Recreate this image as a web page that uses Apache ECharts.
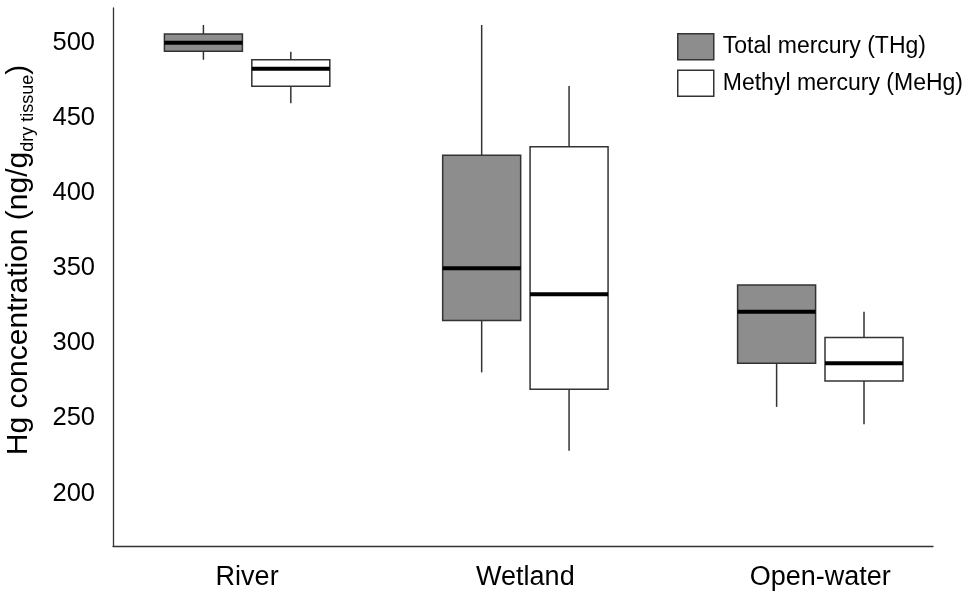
<!DOCTYPE html>
<html>
<head>
<meta charset="utf-8">
<script src="https://cdn.jsdelivr.net/npm/echarts@6/dist/echarts.min.js"></script>
<style>
  html, body { margin: 0; background: #fff; }
  #main { width: 969px; height: 594px; }
</style>
</head>
<body>
<div id="main"></div>
<script>
// sites along x
const categories = ['River', 'Wetland', 'Open-water'];
const groupPos = [1, 2, 3.06];
// box stats per site: [min, Q1, median, Q3, max]
const thgStats = [
  [489, 494.7, 500.4, 506.2, 512.2],
  [280.7, 315.3, 350, 425.3, 512.2],
  [257.7, 286.7, 321.1, 338.9, 338.9]
];
const mehgStats = [
  [460, 471.3, 483, 489, 494.4],
  [228.4, 269.5, 332.7, 431.1, 471.5],
  [246.2, 275, 286.7, 304, 321.1]
];
const yTicks = [200, 250, 300, 350, 400, 450, 500];

const BOX_W = 78;
const BOX_OFF = 43.7;
const FONT = '"Liberation Sans", Arial, sans-serif';

const chart = echarts.init(document.getElementById('main'));

// box + whiskers (no caps) + thick median line
function boxRenderer(side, fill) {
  return function (params, api) {
    const x = api.value(0);
    const lo = api.coord([x, api.value(1)]);
    const q1 = api.coord([x, api.value(2)]);
    const md = api.coord([x, api.value(3)]);
    const q3 = api.coord([x, api.value(4)]);
    const hi = api.coord([x, api.value(5)]);
    const cx = lo[0] + side * BOX_OFF;
    const half = BOX_W / 2;
    const lineSt = { stroke: '#333', lineWidth: 1.5 };
    return {
      type: 'group',
      children: [
        { type: 'line', shape: { x1: cx, y1: hi[1], x2: cx, y2: q3[1] }, style: lineSt },
        { type: 'line', shape: { x1: cx, y1: q1[1], x2: cx, y2: lo[1] }, style: lineSt },
        { type: 'rect', shape: { x: cx - half, y: q3[1], width: BOX_W, height: q1[1] - q3[1] },
          style: { fill: fill, stroke: '#333', lineWidth: 1.5 } },
        { type: 'line', shape: { x1: cx - half, y1: md[1], x2: cx + half, y2: md[1] },
          style: { stroke: '#000', lineWidth: 4 } }
      ]
    };
  };
}

const thgData = thgStats.map((s, i) => [groupPos[i]].concat(s));
const mehgData = mehgStats.map((s, i) => [groupPos[i]].concat(s));

const option = {
  backgroundColor: '#fff',
  animation: false,
  grid: { left: 113, right: 36, top: 8, bottom: 48, outerBoundsMode: 'none' },
  legend: {
    orient: 'vertical',
    left: 672,
    top: 28,
    itemWidth: 36,
    itemHeight: 26,
    itemGap: 9,
    icon: 'rect',
    textStyle: { fontFamily: FONT, fontSize: 23, color: '#000', padding: [0, 0, 0, 4] },
    data: [
      { name: 'Total mercury (THg)', itemStyle: { color: '#8d8d8d', borderColor: '#333', borderWidth: 1.5 } },
      { name: 'Methyl mercury (MeHg)', itemStyle: { color: '#fff', borderColor: '#333', borderWidth: 1.5 } }
    ]
  },
  xAxis: {
    type: 'value',
    min: 0.518,
    max: 3.465,
    splitLine: { show: false },
    axisTick: { show: false },
    axisLine: { show: true, onZero: false, lineStyle: { color: '#333', width: 1.3 } },
    axisLabel: {
      customValues: groupPos,
      formatter: function (v) {
        const i = groupPos.findIndex(p => Math.abs(p - v) < 1e-6);
        return i >= 0 ? categories[i] : '';
      },
      fontFamily: FONT, fontSize: 27, color: '#000', margin: 18
    }
  },
  yAxis: {
    type: 'value',
    min: 165,
    max: 523.5,
    splitLine: { show: false },
    axisTick: { show: false },
    axisLine: { show: true, lineStyle: { color: '#333', width: 1.3 } },
    axisLabel: { customValues: yTicks, fontFamily: FONT, fontSize: 25.5, color: '#000', margin: 18 },
    name: '{a|Hg concentration (ng/g}{sub|dry tissue}{a|)}',
    nameLocation: 'middle',
    nameGap: 76,
    nameTextStyle: {
      padding: [0, 0, 0, 34],
      rich: {
        a: { fontFamily: FONT, fontSize: 30, color: '#000', lineHeight: 36 },
        sub: { fontFamily: FONT, fontSize: 18, color: '#000', lineHeight: 26, verticalAlign: 'bottom' }
      }
    }
  },
  series: [
    {
      name: 'Total mercury (THg)',
      type: 'custom',
      itemStyle: { color: '#8d8d8d', borderColor: '#333' },
      encode: { x: 0, y: [1, 2, 3, 4, 5] },
      renderItem: boxRenderer(-1, '#8d8d8d'),
      data: thgData
    },
    {
      name: 'Methyl mercury (MeHg)',
      type: 'custom',
      itemStyle: { color: '#fff', borderColor: '#333' },
      encode: { x: 0, y: [1, 2, 3, 4, 5] },
      renderItem: boxRenderer(1, '#fff'),
      data: mehgData
    }
  ]
};

chart.setOption(option);
</script>
</body>
</html>
